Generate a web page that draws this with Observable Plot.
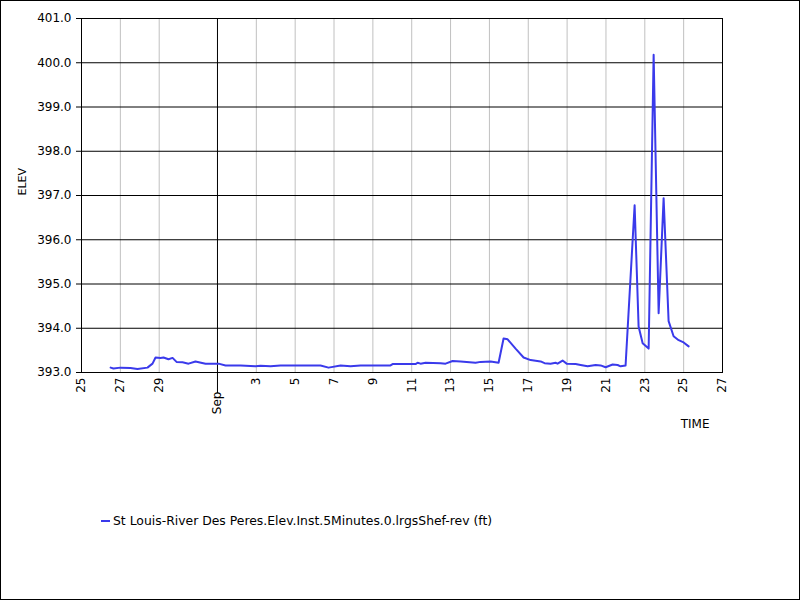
<!DOCTYPE html>
<html><head><meta charset="utf-8">
<script src="https://cdn.jsdelivr.net/npm/d3@7"></script>
<script src="https://cdn.jsdelivr.net/npm/@observablehq/plot@0.6"></script>
<style>
body{margin:0;background:#fff;}
#wrap{position:relative;width:800px;height:600px;border:1px solid #000;box-sizing:border-box;font-family:"DejaVu Sans",sans-serif;background:#fff;overflow:hidden;}
#chart svg{display:block;overflow:visible;}
#legend{position:absolute;left:100px;top:513px;font-size:12.4px;line-height:14px;display:flex;align-items:center;color:#000;}
#legend .sw{width:9px;height:2px;background:#3a3aeb;margin-right:3px;}
</style></head>
<body><div id="wrap"><div id="chart"></div><div id="legend"></div></div>
<script>
const seriesName = "St Louis-River Des Peres.Elev.Inst.5Minutes.0.lrgsShef-rev (ft)";
const times = ["2023-08-26T12:00Z","2023-08-26T15:30Z","2023-08-27T00:10Z","2023-08-27T12:30Z","2023-08-27T21:10Z","2023-08-28T09:30Z","2023-08-28T15:45Z","2023-08-28T19:30Z","2023-08-29T01:40Z","2023-08-29T05:20Z",
"2023-08-29T11:30Z","2023-08-29T16:30Z","2023-08-29T21:25Z","2023-08-30T04:50Z","2023-08-30T12:15Z","2023-08-30T20:50Z","2023-08-31T09:15Z","2023-09-01T01:20Z","2023-09-01T10:00Z","2023-09-02T04:30Z",
"2023-09-02T23:00Z","2023-09-03T05:15Z","2023-09-03T17:35Z","2023-09-04T05:55Z","2023-09-04T18:15Z","2023-09-05T06:40Z","2023-09-06T07:20Z","2023-09-06T17:15Z","2023-09-07T08:05Z","2023-09-07T20:25Z",
"2023-09-08T08:50Z","2023-09-09T21:50Z","2023-09-10T00:20Z","2023-09-11T04:45Z","2023-09-11T07:15Z","2023-09-11T10:55Z","2023-09-11T17:05Z","2023-09-12T11:40Z","2023-09-12T17:50Z","2023-09-13T02:30Z",
"2023-09-13T12:25Z","2023-09-14T06:55Z","2023-09-14T13:05Z","2023-09-15T01:30Z","2023-09-15T11:20Z","2023-09-15T17:30Z","2023-09-15T22:30Z","2023-09-16T08:20Z","2023-09-16T18:15Z","2023-09-17T02:55Z",
"2023-09-17T15:15Z","2023-09-17T20:10Z","2023-09-18T03:35Z","2023-09-18T09:45Z","2023-09-18T12:15Z","2023-09-18T18:25Z","2023-09-18T23:25Z","2023-09-19T10:30Z","2023-09-19T16:40Z","2023-09-20T01:20Z",
"2023-09-20T11:15Z","2023-09-20T17:25Z","2023-09-20T23:35Z","2023-09-21T08:15Z","2023-09-21T14:25Z","2023-09-21T18:05Z","2023-09-22T00:15Z","2023-09-22T11:25Z","2023-09-22T16:20Z","2023-09-22T21:20Z",
"2023-09-23T04:45Z","2023-09-23T10:55Z","2023-09-23T17:05Z","2023-09-23T23:15Z","2023-09-24T05:25Z","2023-09-24T11:35Z","2023-09-24T17:50Z","2023-09-24T23:58Z","2023-09-25T06:10Z"];
const elev = [393.11,393.09,393.11,393.10,393.08,393.11,393.20,393.34,393.33,393.34,
393.30,393.33,393.24,393.23,393.20,393.25,393.20,393.20,393.16,393.16,
393.14,393.15,393.14,393.16,393.16,393.16,393.16,393.11,393.16,393.14,
393.16,393.16,393.19,393.19,393.22,393.20,393.22,393.21,393.20,393.26,
393.25,393.22,393.24,393.25,393.22,393.77,393.75,393.54,393.34,393.28,
393.25,393.21,393.20,393.22,393.20,393.27,393.20,393.19,393.17,393.14,
393.17,393.16,393.12,393.18,393.17,393.14,393.16,396.78,394.04,393.66,
393.54,400.18,394.34,396.94,394.16,393.82,393.73,393.68,393.59];
const tickDates = ["2023-08-25","2023-08-27","2023-08-29","2023-09-01","2023-09-03","2023-09-05","2023-09-07","2023-09-09","2023-09-11","2023-09-13","2023-09-15","2023-09-17","2023-09-19","2023-09-21","2023-09-23","2023-09-25","2023-09-27"];
const tickLabels = ["25","27","29","Sep","3","5","7","9","11","13","15","17","19","21","23","25","27"];
const yTicks = [393,394,395,396,397,398,399,400,401];
const xDomain = ["2023-08-25","2023-09-27"];

const data = times.map((t,i)=>({time:new Date(t), elev:elev[i]}));
const ticks = tickDates.map((d,i)=>({date:new Date(d+"T00:00Z"), label:tickLabels[i]}));
const dayTicks = ticks.filter(d=>d.label!=="Sep");
const monthTicks = ticks.filter(d=>d.label==="Sep");
const lineColor = "#3a3aeb";

const chart = Plot.plot({
  width: 798, height: 470,
  marginLeft: 80, marginTop: 17, marginRight: 77, marginBottom: 99,
  style: {fontFamily: "DejaVu Sans, sans-serif", fontSize: "12px", background: "white", color: "black"},
  x: {type: "utc", domain: xDomain.map(d=>new Date(d+"T00:00Z")), axis: null},
  y: {domain: [393, 401], axis: null},
  marks: [
    Plot.ruleX(dayTicks, {x: "date", stroke: "#c0c0c0", strokeWidth: 1}),
    Plot.ruleY(yTicks, {stroke: "black", strokeWidth: 1}),
    Plot.ruleX(monthTicks, {x: "date", stroke: "black", strokeWidth: 1, insetBottom: -21}),
    Plot.frame({stroke: "black"}),
    Plot.axisY({ticks: yTicks, tickFormat: d=>d.toFixed(1), tickSize: 5, tickPadding: 5, label: null, fontSize: 12}),
    Plot.line(data, {x: "time", y: "elev", stroke: lineColor, strokeWidth: 2}),
    Plot.text(dayTicks, {x: "date", text: "label", frameAnchor: "bottom", rotate: -90, textAnchor: "end", lineAnchor: "middle", dy: 5, fontSize: 12}),
    Plot.text(monthTicks, {x: "date", text: "label", frameAnchor: "bottom", rotate: -90, textAnchor: "end", lineAnchor: "middle", dy: 19, fontSize: 12}),
    Plot.text(["ELEV"], {frameAnchor: "left", dx: -59, rotate: -90, fontSize: 11}),
    Plot.text(["TIME"], {frameAnchor: "bottom-right", dx: -13, dy: 55, fontSize: 12})
  ]
});
document.getElementById("chart").appendChild(chart);
const lg = document.getElementById("legend");
lg.innerHTML = '<span class="sw"></span><span></span>';
lg.lastChild.textContent = seriesName;
</script>
</body></html>
